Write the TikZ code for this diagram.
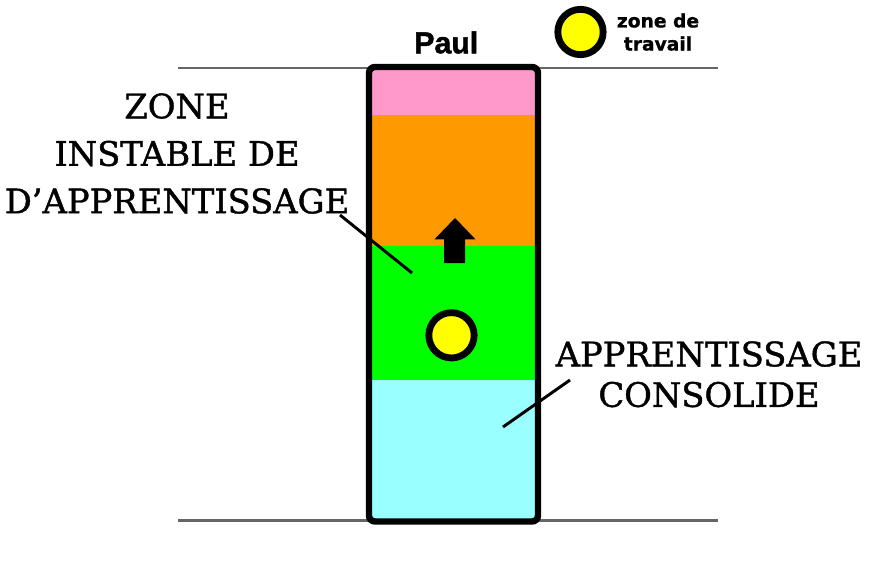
\documentclass[tikz,border=0pt]{standalone}
\usepackage{fontspec}
\setmainfont{DejaVu Serif}
\newfontface\zonefont{DejaVu Serif}[FakeBold=1.2]
\newfontface\namefont{Liberation Sans Bold}[FakeBold=1.5]
\newfontface\keyfont{DejaVu Sans Bold}[FakeBold=1]
\usetikzlibrary{positioning}
\definecolor{bandpink}{HTML}{FF99CC}
\definecolor{bandorange}{HTML}{FF9900}
\definecolor{bandgreen}{HTML}{00FF00}
\definecolor{bandcyan}{HTML}{99FFFF}
\definecolor{spot}{HTML}{FFFF00}
\definecolor{rule}{HTML}{666666}

\begin{document}
\begin{tikzpicture}[
  x=0.75pt, y=-0.75pt,
  zone/.style={align=center, inner sep=0pt, anchor=north},
  spotmark/.style={circle, draw, line width=5.1pt, fill=spot, minimum size=34pt, inner sep=0pt},
  leader/.style={line width=2.2pt},
  level/.style={draw=rule, line width=2.2pt}
]
\useasboundingbox (0,0) rectangle (882,564);
% level lines
\draw[level] (178,68) -- (718,68);
\draw[level] (178,520.5) -- (718,520.5);
% column bands
\coordinate (colNW) at (369,67);
\coordinate (colSE) at (538,521.5);
\fill[bandpink] (369,67) rectangle (538,115);
\fill[bandorange] (369,115) rectangle (538,246);
\fill[bandgreen] (369,246) rectangle (538,380);
\fill[bandcyan] (369,380) rectangle (538,521.5);
\draw[line width=4.8pt, rounded corners=4.5pt] (colNW) rectangle (colSE);
% upward arrow
\fill (455,218) -- (475.5,239.3) -- (465,239.3) -- (465,263) -- (444,263)
  -- (444,239.3) -- (434.5,239.3) -- cycle;
\node[spotmark] (travail) at (451.5,335.3) {};
% title and key
\node[anchor=base, inner sep=0pt, font=\namefont\fontsize{22.7pt}{27pt}\selectfont] (paul) at (446.3,53.3) {Paul};
\node[spotmark] (key) at (580.5,32) {};
\node[zone, font=\keyfont\fontsize{14pt}{17.3pt}\selectfont] (keytext) at (658,13) {zone de\\travail};
% zone labels
\node[zone, font=\zonefont\fontsize{25.3pt}{35.6pt}\selectfont] (instable) at (177,93) {ZONE\\INSTABLE DE\\D’APPRENTISSAGE};
\node[zone, font=\zonefont\fontsize{25.3pt}{30.4pt}\selectfont] (consolide) at (709,341) {APPRENTISSAGE\\CONSOLIDE};
\coordinate (instableEnd) at (340,215);
\coordinate (instableTip) at (412,273);
\coordinate (consolideEnd) at (570,380);
\coordinate (consolideTip) at (503,427);
\draw[leader] (instableEnd) -- (instableTip);
\draw[leader] (consolideEnd) -- (consolideTip);
\end{tikzpicture}
\end{document}
